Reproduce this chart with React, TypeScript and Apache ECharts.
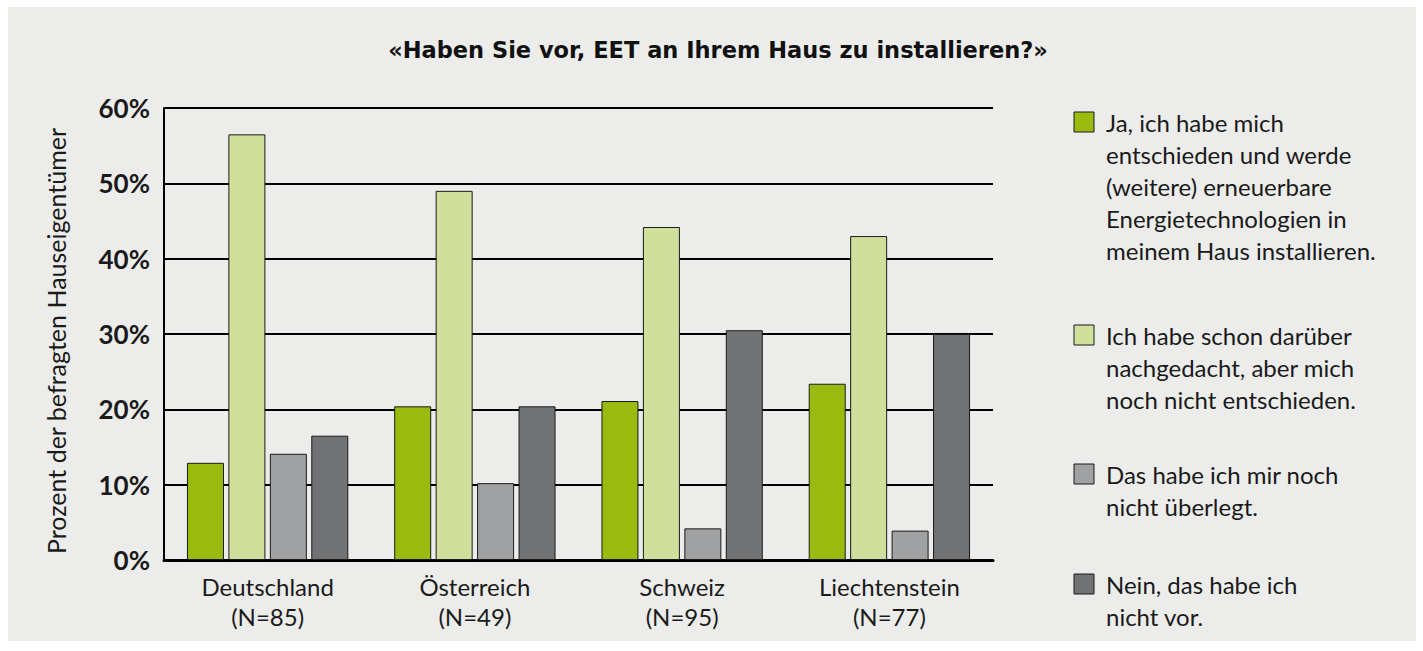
import React, { useEffect, useRef } from "react";
import * as echarts from "echarts";

const countries = ["Deutschland", "Österreich", "Schweiz", "Liechtenstein"];
const sampleSizes = ["N=85", "N=49", "N=95", "N=77"];
const seriesNames = [
  "Ja, ich habe mich\nentschieden und werde\n(weitere) erneuerbare\nEnergietechnologien in\nmeinem Haus installieren.",
  "Ich habe schon darüber\nnachgedacht, aber mich\nnoch nicht entschieden.",
  "Das habe ich mir noch\nnicht überlegt.",
  "Nein, das habe ich\nnicht vor.",
];
const jaValues = [12.9, 20.4, 21.1, 23.4];
const nachgedachtValues = [56.5, 49.0, 44.2, 43.0];
const nichtUeberlegtValues = [14.1, 10.2, 4.2, 3.9];
const neinValues = [16.5, 20.4, 30.5, 30.0];
const seriesColors = ["#9aba10", "#d1df9c", "#a0a1a2", "#717274"];
const titleText = "«Haben Sie vor, EET an Ihrem Haus zu installieren?»";
const yAxisTitle = "Prozent der befragten Hauseigentümer";

const FONT = "Lato, 'Open Sans', sans-serif";
const TITLE_FONT = "'DejaVu Sans', Lato, sans-serif";

export default function App() {
  const ref = useRef<HTMLDivElement>(null);
  useEffect(() => {
    document.body.style.margin = "0";
    const chart = echarts.init(ref.current!, null, { renderer: "svg" });
    const values = [jaValues, nachgedachtValues, nichtUeberlegtValues, neinValues];
    const legendTops = [122, 335, 474, 584];
    const legendGraphics: any[] = [];
    seriesNames.forEach((name, i) => {
      legendGraphics.push({
        type: "rect",
        shape: { x: 1074, y: legendTops[i] - 10, width: 20, height: 20 },
        style: { fill: seriesColors[i], stroke: "#1a1a1a", lineWidth: 1 },
      });
      legendGraphics.push({
        type: "text",
        x: 1106,
        y: legendTops[i] - 16,
        style: {
          text: name,
          fill: "#1a1a1a",
          font: `24px ${FONT}`,
          lineHeight: 32,
          verticalAlign: "top",
        },
      });
    });
    chart.setOption({
      animation: false,
      backgroundColor: "#ffffff",
      title: {
        text: titleText,
        left: 713,
        top: 33,
        textAlign: "center",
        textStyle: { fontFamily: TITLE_FONT, fontSize: 22.5, fontWeight: "bold", color: "#111" },
      },
      graphic: [
        {
          type: "rect",
          z: -100,
          silent: true,
          shape: { x: 8, y: 7, width: 1408, height: 634 },
          style: { fill: "#ecedeb" },
        },
        {
          type: "text",
          x: 56,
          y: 341,
          rotation: Math.PI / 2,
          style: {
            text: yAxisTitle,
            fill: "#1a1a1a",
            font: `25px ${FONT}`,
            align: "center",
            verticalAlign: "middle",
          },
        },
        ...legendGraphics,
      ],
      grid: { left: 164, top: 108, right: 430, bottom: 91, containLabel: false },
      xAxis: {
        type: "category",
        data: countries.map((c, i) => `${c}\n(${sampleSizes[i]})`),
        axisLine: { lineStyle: { color: "#000", width: 3 } },
        axisTick: { show: false },
        axisLabel: {
          fontFamily: FONT,
          fontSize: 24,
          color: "#1a1a1a",
          lineHeight: 30,
          margin: 11,
        },
      },
      yAxis: {
        type: "value",
        min: 0,
        max: 60,
        interval: 10,
        axisLine: { show: true, lineStyle: { color: "#000", width: 2 } },
        axisTick: { show: false },
        splitLine: { lineStyle: { color: "#000", width: 2 } },
        axisLabel: {
          formatter: "{value}%",
          fontFamily: FONT,
          fontSize: 26,
          fontWeight: "bold",
          color: "#1a1a1a",
          margin: 14,
          padding: [7, 0, 0, 0],
        },
      },
      series: values.map((v, i) => ({
        type: "bar",
        name: seriesNames[i],
        data: v,
        barWidth: 37,
        barGap: "12%",
        itemStyle: { color: seriesColors[i], borderColor: "#1a1a1a", borderWidth: 1 },
      })),
    });
    return () => chart.dispose();
  }, []);
  return <div ref={ref} style={{ width: 1423, height: 651 }} />;
}
